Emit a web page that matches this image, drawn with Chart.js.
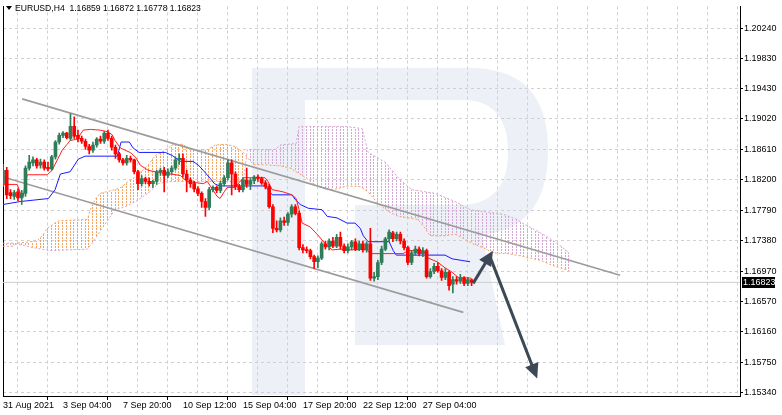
<!DOCTYPE html>
<html><head><meta charset="utf-8">
<script src="https://cdn.jsdelivr.net/npm/chart.js@4.4.0/dist/chart.umd.min.js"></script>
<style>html,body{margin:0;padding:0;background:#fff;}#wrap{width:782px;height:415px;}</style>
</head><body><div id="wrap"><canvas id="c" width="782" height="415"></canvas></div>
<script>
// ---------- DATA ----------
const symbolTitle = 'EURUSD,H4  1.16859 1.16872 1.16778 1.16823';
const xTickLabels = ['31 Aug 2021','3 Sep 04:00','7 Sep 20:00','10 Sep 12:00','15 Sep 04:00','17 Sep 20:00','22 Sep 12:00','27 Sep 04:00'];
const yTickValues = [1.20240,1.19830,1.19430,1.19020,1.18610,1.18200,1.17790,1.17380,1.16970,1.16570,1.16160,1.15750,1.15340];
const lastPrice = 1.16823;

const opens = [1.1815,1.1833,1.1803,1.1798,1.1804,1.1796,1.1802,1.1836,1.1843,1.1847,
1.1840,1.1844,1.1837,1.1835,1.1851,1.1871,1.1880,1.1883,1.1876,1.1892,
1.1880,1.1876,1.1872,1.1865,1.1860,1.1867,1.1875,1.1872,1.1883,1.1876,
1.1864,1.1855,1.1847,1.1843,1.1849,1.1847,1.1831,1.1815,1.1822,1.1818,
1.1815,1.1818,1.1831,1.1833,1.1826,1.1831,1.1836,1.1847,1.1849,1.1828,
1.1820,1.1815,1.1808,1.1802,1.1791,1.1783,1.1807,1.1810,1.1806,1.1815,
1.1823,1.1843,1.1828,1.1811,1.1807,1.1820,1.1814,1.1819,1.1824,1.1822,
1.1816,1.1811,1.1784,1.1755,1.1753,1.1765,1.1763,1.1774,1.1784,1.1775,
1.1729,1.1726,1.1725,1.1717,1.1710,1.1715,1.1734,1.1730,1.1738,1.1731,
1.1743,1.1731,1.1725,1.1730,1.1737,1.1727,1.1734,1.1726,1.1734,1.1688,
1.1690,1.1709,1.1727,1.1741,1.1749,1.1741,1.1747,1.1738,1.1729,1.1709,
1.1722,1.1727,1.1721,1.1725,1.1690,1.1697,1.1704,1.1698,1.1689,1.1696,
1.1680,1.1686,1.1684,1.1688,1.1681,1.16859];
const highs = [1.1841,1.1837,1.1807,1.1806,1.1808,1.1806,1.1839,1.1853,1.1851,1.1849,
1.1848,1.1847,1.1844,1.1853,1.1873,1.1883,1.1885,1.1884,1.1909,1.1905,
1.1887,1.1879,1.1875,1.1868,1.1871,1.1877,1.1879,1.1885,1.1887,1.1879,
1.1867,1.1857,1.1849,1.1853,1.1852,1.1848,1.1833,1.1826,1.1824,1.1823,
1.1820,1.1833,1.1836,1.1837,1.1835,1.1839,1.1851,1.1855,1.1855,1.1833,
1.1823,1.1818,1.1811,1.1804,1.1795,1.1810,1.1812,1.1812,1.1818,1.1826,
1.1847,1.1847,1.1831,1.1814,1.1823,1.1836,1.1822,1.1826,1.1827,1.1824,
1.1819,1.1814,1.1787,1.1765,1.1769,1.1770,1.1776,1.1787,1.1787,1.1778,
1.1733,1.1730,1.1727,1.1719,1.1718,1.1737,1.1738,1.1741,1.1743,1.1747,
1.1750,1.1734,1.1734,1.1739,1.1741,1.1738,1.1738,1.1737,1.1755,1.1696,
1.1712,1.1731,1.1743,1.1753,1.1751,1.1750,1.1750,1.1741,1.1731,1.1725,
1.1731,1.1730,1.1729,1.1727,1.1701,1.1708,1.1709,1.1701,1.1701,1.1698,
1.1690,1.1690,1.1693,1.1690,1.1689,1.16872];
const lows = [1.1811,1.1795,1.1795,1.1794,1.1792,1.1787,1.1798,1.1833,1.1839,1.1836,
1.1836,1.1833,1.1832,1.1833,1.1848,1.1868,1.1877,1.1875,1.1873,1.1876,
1.1871,1.1869,1.1861,1.1855,1.1857,1.1864,1.1869,1.1869,1.1873,1.1860,
1.1849,1.1844,1.1840,1.1840,1.1844,1.1828,1.1807,1.1812,1.1815,1.1812,
1.1810,1.1814,1.1826,1.1804,1.1823,1.1828,1.1833,1.1841,1.1824,1.1804,
1.1810,1.1804,1.1799,1.1783,1.1771,1.1780,1.1804,1.1803,1.1803,1.1812,
1.1820,1.1800,1.1807,1.1804,1.1804,1.1810,1.1807,1.1815,1.1818,1.1814,
1.1808,1.1782,1.1749,1.1750,1.1750,1.1759,1.1759,1.1770,1.1773,1.1726,
1.1722,1.1722,1.1714,1.1701,1.1702,1.1713,1.1727,1.1726,1.1729,1.1729,
1.1727,1.1722,1.1722,1.1726,1.1725,1.1725,1.1723,1.1723,1.1685,1.1684,
1.1686,1.1706,1.1725,1.1737,1.1737,1.1738,1.1734,1.1726,1.1706,1.1706,
1.1719,1.1718,1.1717,1.1688,1.1688,1.1694,1.1696,1.1685,1.1686,1.1672,
1.1668,1.1680,1.1681,1.1678,1.1678,1.16778];
const closes = [1.1833,1.1800,1.1799,1.1803,1.1796,1.1802,1.1836,1.1844,1.1847,1.1839,
1.1844,1.1836,1.1835,1.1851,1.1871,1.1880,1.1883,1.1877,1.1892,1.1879,
1.1875,1.1872,1.1865,1.1860,1.1867,1.1875,1.1872,1.1883,1.1876,1.1864,
1.1855,1.1847,1.1843,1.1849,1.1847,1.1831,1.1815,1.1822,1.1818,1.1815,
1.1818,1.1831,1.1833,1.1826,1.1831,1.1836,1.1847,1.1849,1.1828,1.1820,
1.1815,1.1808,1.1802,1.1791,1.1783,1.1807,1.1810,1.1806,1.1815,1.1823,
1.1843,1.1828,1.1811,1.1807,1.1820,1.1814,1.1819,1.1824,1.1822,1.1816,
1.1811,1.1784,1.1755,1.1753,1.1765,1.1763,1.1774,1.1784,1.1775,1.1729,
1.1726,1.1725,1.1717,1.1710,1.1715,1.1734,1.1730,1.1738,1.1731,1.1743,
1.1731,1.1725,1.1730,1.1737,1.1727,1.1734,1.1726,1.1734,1.1688,1.1690,
1.1709,1.1727,1.1741,1.1750,1.1741,1.1747,1.1738,1.1729,1.1709,1.1722,
1.1727,1.1721,1.1725,1.1690,1.1697,1.1704,1.1698,1.1689,1.1696,1.1678,
1.1686,1.1684,1.1688,1.1681,1.1686,1.16823];

// Ichimoku lines: [bar index, price]
const tenkan = [[0,1.1814],[3.8,1.1814],[4.6,1.1803],[5.4,1.1798],[5.9,1.1815],[6.5,1.1827],[11.8,1.1827],[13.1,1.1833],[14.5,1.1847],[15.8,1.1860],[17.1,1.1868],[17.9,1.1873],[19.8,1.1875],[21.4,1.1887],[23.3,1.1888],[25.9,1.1887],[27.8,1.1885],[29.1,1.1881],[29.9,1.1873],[31.3,1.1863],[33.9,1.1857],[35.3,1.1851],[36.6,1.1840],[38.7,1.1833],[40.6,1.1831],[47.3,1.1826],[49.1,1.1818],[53.4,1.1815],[54.5,1.1818],[55.8,1.1808],[57.1,1.1798],[57.9,1.1795],[59.0,1.1804],[59.8,1.1810],[61.9,1.1810],[64.1,1.1823],[69.9,1.1823],[70.7,1.1818],[71.8,1.1807],[74.7,1.1804],[77.1,1.1800],[78.2,1.1795],[79.0,1.1780],[79.8,1.1762],[81.9,1.1757],[83.8,1.1747],[86.0,1.1734],[87.8,1.1726],[89.9,1.1727],[92.6,1.1726],[97.1,1.1727],[97.9,1.1721],[106.7,1.1721],[108.1,1.1725],[112.1,1.1725],[113.4,1.1715],[115.8,1.1710],[117.9,1.1702],[119.8,1.1696],[121.4,1.1689],[124.9,1.1688]];
const kijun = [[0,1.1787],[4.6,1.1791],[12.1,1.1795],[13.9,1.1807],[15.3,1.1828],[17.9,1.1831],[20.1,1.1848],[21.9,1.1852],[30.5,1.1852],[31.5,1.1871],[33.7,1.1871],[34.7,1.1863],[36.3,1.1857],[43.3,1.1857],[45.1,1.1853],[46.5,1.1848],[47.3,1.1845],[50.7,1.1845],[52.1,1.1840],[53.4,1.1833],[55.3,1.1822],[56.4,1.1815],[57.7,1.1812],[69.9,1.1812],[70.7,1.1807],[71.8,1.1800],[77.1,1.1800],[77.9,1.1794],[79.3,1.1787],[81.4,1.1782],[85.1,1.1780],[86.5,1.1771],[89.1,1.1769],[91.8,1.1762],[93.9,1.1762],[95.3,1.1755],[96.1,1.1745],[97.4,1.1737],[103.0,1.1737],[104.1,1.1725],[104.9,1.1719],[117.9,1.1719],[119.8,1.1714],[124.6,1.1710]];
const senkouA = [[0,1.1731],[2.7,1.1731],[3.8,1.1735],[9.1,1.1738],[10.5,1.1745],[11.8,1.1755],[14.7,1.1765],[22.5,1.1767],[23.3,1.1780],[24.6,1.1794],[25.9,1.1802],[29.9,1.1807],[31.8,1.1811],[33.4,1.1818],[35.3,1.1824],[38.7,1.1840],[40.6,1.1853],[43.3,1.1860],[45.1,1.1867],[47.8,1.1868],[50.5,1.1861],[52.1,1.1860],[54.7,1.1861],[56.6,1.1867],[59.3,1.1868],[61.9,1.1865],[64.1,1.1857],[66.7,1.1841],[70.7,1.1840],[73.9,1.1839],[76.6,1.1836],[78.5,1.1830],[81.1,1.1822],[82.7,1.1815],[84.6,1.1810],[86.5,1.1807],[89.1,1.1808],[91.8,1.1812],[95.3,1.1811],[97.4,1.1804],[100.1,1.1788],[102.7,1.1778],[105.4,1.1771],[110.7,1.1767],[112.6,1.1755],[113.9,1.1745],[117.9,1.1745],[120.6,1.1747],[122.7,1.1742],[125.4,1.1734],[128.1,1.1729],[130.7,1.1722],[134.5,1.1721],[138.0,1.1718],[140.6,1.1715],[143.3,1.1712],[146.7,1.1705],[151,1.1698]];
const senkouB = [[0,1.1735],[2.7,1.1735],[8.1,1.1729],[12.6,1.1725],[22.5,1.1727],[23.8,1.1735],[25.9,1.1751],[29.9,1.1780],[32.6,1.1784],[35.3,1.1791],[38.7,1.1802],[41.4,1.1815],[44.1,1.1818],[64.1,1.1818],[65.2,1.1861],[72.6,1.1861],[74.0,1.1867],[78.2,1.1869],[79.0,1.1892],[91.3,1.1892],[95.8,1.1889],[97.4,1.1857],[101.9,1.1844],[106.0,1.1820],[109.1,1.1807],[115.3,1.1802],[120.6,1.1791],[124.6,1.1780],[133.4,1.1774],[137.1,1.1767],[138.5,1.1762],[144.1,1.1747],[147.8,1.1735],[151,1.1722]];

// Drawn objects: channel and forecast arrows, [bar index, price]
const channelUpper = [[5.1,1.1929],[164.6,1.1692]];
const channelLower = [[0,1.1824],[122.8,1.1642]];
const arrowUp = [[125.4,1.1681],[130.7,1.1725]];
const arrowDown = [[129.9,1.1717],[142.5,1.1553]];

// ---------- CHART ----------
const GREEN = '#2E7D58', RED = '#FF0000';
const X_MAX = 196.6, Y_MIN = 1.15296, Y_MAX = 1.20533;
const canvas = document.getElementById('c');
const ctx = canvas.getContext('2d');

function hatch(color){
  const t = document.createElement('canvas'); t.width = 15; t.height = 3;
  const g = t.getContext('2d'); g.fillStyle = color;
  [0,4,8,11].forEach(x => g.fillRect(x,0,1,2));
  return ctx.createPattern(t,'repeat');
}
const hatchBull = hatch('#F4A460');
const hatchBear = hatch('#D2A8D2');

const idx = opens.map((_, i) => i);
const candleColor = idx.map(i => closes[i] >= opens[i] ? GREEN : RED);
const pts = arr => arr.map(p => ({x: p[0], y: p[1]}));

const wmPlugin = {
  id: 'wm',
  beforeDraw(chart){
    const c = chart.ctx;
    c.save();
    c.fillStyle = '#fff'; c.fillRect(0,0,chart.width,chart.height);
    c.fillStyle = '#edf0f6';
    c.fillRect(252,68,53,327);
    c.beginPath();
    c.moveTo(305,68); c.lineTo(470,68);
    c.quadraticCurveTo(548,68,548,150);
    c.quadraticCurveTo(548,228,482,235);
    c.lineTo(505,345); c.lineTo(355,345); c.lineTo(355,205);
    c.lineTo(462,205);
    c.quadraticCurveTo(508,203,508,152);
    c.quadraticCurveTo(508,100,462,100);
    c.lineTo(305,100); c.closePath();
    c.fill();
    c.restore();
  },
  beforeDatasetsDraw(chart){
    const off = Math.floor(chart.scales.x.getPixelForValue(0) - 0.5);
    const m = new DOMMatrix().translate(off, 0);
    hatchBull.setTransform(m); hatchBear.setTransform(m);
  }
};

function drawArrow(c, x1, y1, x2, y2){
  const ang = Math.atan2(y2 - y1, x2 - x1);
  const L = 15, W = 7;
  const bx = x2 - L*Math.cos(ang), by = y2 - L*Math.sin(ang);
  c.beginPath(); c.moveTo(x1,y1); c.lineTo(bx + 2*Math.cos(ang), by + 2*Math.sin(ang)); c.stroke();
  c.beginPath();
  c.moveTo(x2,y2);
  c.lineTo(bx + W*Math.sin(ang), by - W*Math.cos(ang));
  c.lineTo(bx - W*Math.sin(ang), by + W*Math.cos(ang));
  c.closePath(); c.fill();
}

const overlayPlugin = {
  id: 'overlay',
  afterDatasetsDraw(chart){
    const c = chart.ctx, xs = chart.scales.x, ys = chart.scales.y;
    c.save();
    c.beginPath(); c.rect(chart.chartArea.left, chart.chartArea.top, chart.chartArea.width, chart.chartArea.height); c.clip();
    c.strokeStyle = '#3c4855'; c.fillStyle = '#3c4855'; c.lineWidth = 3; c.lineCap = 'butt';
    [arrowUp, arrowDown].forEach(a => {
      drawArrow(c, xs.getPixelForValue(a[0][0]), ys.getPixelForValue(a[0][1]), xs.getPixelForValue(a[1][0]), ys.getPixelForValue(a[1][1]));
    });
    c.restore();
  },
  afterDraw(chart){
    const c = chart.ctx, ys = chart.scales.y, a = chart.chartArea;
    c.save();
    c.fillStyle = '#000';
    c.beginPath(); c.moveTo(a.left+3, 6); c.lineTo(a.left+9, 6); c.lineTo(a.left+6, 10); c.closePath(); c.fill();
    c.font = '8.6px "Liberation Sans", Arial, sans-serif';
    c.textBaseline = 'middle'; c.textAlign = 'left';
    c.fillText(symbolTitle, a.left + 12, 8.5);
    const py = Math.round(ys.getPixelForValue(lastPrice));
    c.fillStyle = '#000'; c.fillRect(a.right + 2, py - 5, 33, 11);
    c.fillStyle = '#fff';
    c.font = '9px "Liberation Sans", Arial, sans-serif';
    c.fillText(lastPrice.toFixed(5), a.right + 3, py + 0.5);
    c.restore();
  }
};

const lineDs = (label, data, color, extra) => Object.assign({
  type: 'line', label, data: pts(data), borderColor: color, borderWidth: 1,
  pointRadius: 0, fill: false, tension: 0, xAxisID: 'x', yAxisID: 'y'
}, extra || {});

new Chart(ctx, {
  type: 'bar',
  data: {
    datasets: [
      lineDs('Senkou A', senkouA, '#F4A460', {borderDash: [2,2], order: 20,
        fill: {target: '+1', above: hatchBull, below: hatchBear}}),
      lineDs('Senkou B', senkouB, '#D2A8D2', {borderDash: [2,2], order: 19}),
      lineDs('Price', [[0,lastPrice],[X_MAX,lastPrice]], '#cfcfcf', {order: 18}),
      lineDs('Channel up', channelUpper, '#9c9c9c', {borderWidth: 1.6, order: 17}),
      lineDs('Channel low', channelLower, '#9c9c9c', {borderWidth: 1.6, order: 17}),
      lineDs('Kijun', kijun, '#1a1aff', {order: 6}),
      lineDs('Tenkan', tenkan, '#ff2020', {order: 5}),
      { type: 'bar', label: 'wick', data: idx.map(i => ({x: i, y: [lows[i], highs[i]]})),
        backgroundColor: candleColor, barThickness: 1, grouped: false, order: 4, minBarLength: 1 },
      { type: 'bar', label: 'body', data: idx.map(i => ({x: i, y: [opens[i], closes[i]]})),
        backgroundColor: candleColor, barThickness: 3, grouped: false, order: 3, minBarLength: 1 }
    ]
  },
  options: {
    responsive: false, animation: false, devicePixelRatio: 1,
    layout: {padding: {top: 3, left: 0, right: 0, bottom: 0}},
    plugins: {legend: {display: false}, tooltip: {enabled: false}},
    scales: {
      x: {
        type: 'linear', min: 0, max: X_MAX, offset: false,
        afterBuildTicks: s => { const t = []; for (let v = 0; v <= 192; v += 8) t.push({value: v}); s.ticks = t; },
        afterFit: s => { s.height = 19; },
        ticks: {
          autoSkip: false, maxRotation: 0, minRotation: 0, align: 'start', padding: 0,
          color: '#000', font: {family: '"Liberation Sans", Arial, sans-serif', size: 9},
          callback: v => (v % 16 === 0 && v / 16 < xTickLabels.length) ? xTickLabels[v / 16] : ''
        },
        grid: {
          color: '#d0d0d0', lineWidth: 1, tickLength: 4, borderDash: [3,3],
          tickColor: c => (c.tick && c.tick.value % 16 === 0 && c.tick.value / 16 < xTickLabels.length) ? '#000' : 'rgba(0,0,0,0)'
        },
        border: {display: true, color: '#000', width: 1, dash: [3,3]}
      },
      y: {
        type: 'linear', position: 'right', min: Y_MIN, max: Y_MAX,
        afterBuildTicks: s => { s.ticks = yTickValues.map(v => ({value: v})); },
        afterFit: s => { s.width = 42; },
        ticks: {
          padding: 1, color: '#000', font: {family: '"Liberation Sans", Arial, sans-serif', size: 9},
          callback: v => Number(v).toFixed(5)
        },
        grid: {color: '#d0d0d0', lineWidth: 1, tickLength: 3, tickColor: '#000', borderDash: [3,3]},
        border: {display: true, color: '#000', width: 1, dash: [3,3]}
      },
      yL: {
        type: 'linear', position: 'left', display: true,
        afterFit: s => { s.width = 3; },
        ticks: {display: false}, grid: {display: false, drawTicks: false},
        border: {display: true, color: '#000', width: 1}
      }
    }
  },
  plugins: [wmPlugin, overlayPlugin]
});
</script>
</body></html>
